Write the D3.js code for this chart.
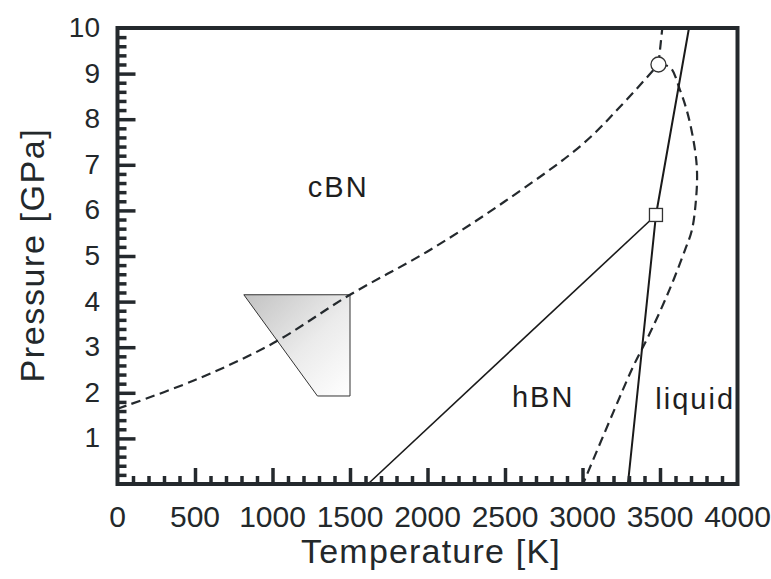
<!DOCTYPE html>
<html>
<head>
<meta charset="utf-8">
<script src="https://cdn.jsdelivr.net/npm/d3@7"></script>
<style>
  html, body { margin: 0; padding: 0; background: #fff; }
  svg { display: block; font-family: "Liberation Sans", Arial, sans-serif; }
</style>
</head>
<body>
<svg id="chart" width="771" height="579"></svg>
<script>
// Boron nitride P–T phase diagram

// Axis ticks
const xMajorTicks = [0, 500, 1000, 1500, 2000, 2500, 3000, 3500, 4000];
const yMajorTicks = [1, 2, 3, 4, 5, 6, 7, 8, 9, 10];

// cBN / hBN equilibrium line (dashed), temperature [K] and pressure [GPa]
const cbnHbnT = [0, 500, 1000, 1500, 2000, 2500, 3000, 3250, 3490];
const cbnHbnP = [1.65, 2.28, 3.08, 4.15, 5.1, 6.2, 7.45, 8.3, 9.2];

// continuation above the triple point (dashed)
const upperT = [3490, 3515];
const upperP = [9.2, 10];

// liquid boundary bulging to high temperature (dashed)
const liquidT = [3490, 3565, 3629, 3681, 3726, 3739, 3732, 3706, 3661, 3560, 3435, 3326, 3197, 3003];
const liquidP = [9.2, 9.14, 8.64, 8.09, 7.32, 6.82, 6.23, 5.57, 5.13, 4.25, 3.31, 2.57, 1.56, 0];

// melting line (solid)
const meltT = [3293, 3474, 3687];
const meltP = [0, 5.9, 10];

// hBN -> cBN kinetic line (solid)
const kineticT = [1616, 3474];
const kineticP = [0, 5.9];

// shaded synthesis region
const regionT = [815, 1500, 1500, 1290];
const regionP = [4.15, 4.15, 1.93, 1.93];

// markers
const circleMark = [3490, 9.2];
const squareMark = [3474, 5.9];

// phase labels
const phaseNames = ["cBN", "hBN", "liquid"];
const phaseT = [1228, 2545, 3470];
const phaseP = [6.29, 1.69, 1.65];

const svg = d3.select("#chart");
const plotLeft = 117.5, plotRight = 737.5, plotTop = 28, plotBottom = 484;
const x = d3.scaleLinear().domain([0, 4000]).range([plotLeft, plotRight]);
const y = d3.scaleLinear().domain([0, 10]).range([plotBottom, plotTop]);
const ink = "#24292d";

const zip = (a, b) => a.map((v, i) => [v, b[i]]);
const line = d3.line().x(d => x(d[0])).y(d => y(d[1]));
const smooth = d3.line().x(d => x(d[0])).y(d => y(d[1])).curve(d3.curveCatmullRom.alpha(0.5));

// gradient fill for the synthesis region
const defs = svg.append("defs");
const grad = defs.append("linearGradient").attr("id", "regionFill")
  .attr("x1", "0%").attr("y1", "0%").attr("x2", "100%").attr("y2", "100%");
grad.append("stop").attr("offset", "0%").attr("stop-color", "#c2c2c2");
grad.append("stop").attr("offset", "55%").attr("stop-color", "#ebebeb");
grad.append("stop").attr("offset", "100%").attr("stop-color", "#ffffff");

svg.append("path")
  .datum(zip(regionT, regionP))
  .attr("d", d => line(d) + "Z")
  .attr("fill", "url(#regionFill)")
  .attr("stroke", "#333")
  .attr("stroke-width", 1);

// dashed boundaries
[zip(cbnHbnT, cbnHbnP), zip(upperT, upperP), zip(liquidT, liquidP)].forEach(pts => {
  svg.append("path").datum(pts)
    .attr("d", smooth)
    .attr("fill", "none")
    .attr("stroke", ink)
    .attr("stroke-width", 2.2)
    .attr("stroke-dasharray", "9.5,5.5");
});

// solid lines
svg.append("path").datum(zip(kineticT, kineticP))
  .attr("d", line).attr("fill", "none").attr("stroke", "#1a1a1a").attr("stroke-width", 1.6);
svg.append("path").datum(zip(meltT, meltP))
  .attr("d", line).attr("fill", "none").attr("stroke", "#1a1a1a").attr("stroke-width", 2);

// markers
svg.append("circle")
  .attr("cx", x(circleMark[0])).attr("cy", y(circleMark[1])).attr("r", 7.5)
  .attr("fill", "#fff").attr("stroke", "#333").attr("stroke-width", 1.3);
svg.append("rect")
  .attr("x", x(squareMark[0]) - 6.5).attr("y", y(squareMark[1]) - 6.5)
  .attr("width", 13).attr("height", 13)
  .attr("fill", "#fff").attr("stroke", "#333").attr("stroke-width", 1.3);

// phase labels
svg.selectAll("text.phase")
  .data(phaseNames)
  .join("text")
  .attr("class", "phase")
  .attr("x", (d, i) => x(phaseT[i]))
  .attr("y", (d, i) => y(phaseP[i]))
  .attr("font-size", 29)
  .attr("letter-spacing", 2)
  .attr("fill", "#1e1e1e")
  .text(d => d);

// axes with inward ticks
const xMinor = d3.range(100, 4000, 100).filter(v => v % 500 !== 0);
const yMinor = d3.range(0.2, 10, 0.2).map(v => +v.toFixed(1)).filter(v => Math.abs(v - Math.round(v)) > 1e-6);

const xAxis = svg.append("g").attr("transform", `translate(0,${plotBottom})`);
xAxis.call(d3.axisBottom(x).tickValues(xMinor).tickSize(-8).tickFormat(""));
xAxis.append("g").call(d3.axisBottom(x).tickValues(xMajorTicks.slice(1, -1)).tickSize(-16).tickFormat(""));
xAxis.selectAll(".domain").remove();
xAxis.selectAll("line").attr("stroke", ink).attr("stroke-width", 3.5);

const yAxis = svg.append("g").attr("transform", `translate(${plotLeft},0)`);
yAxis.call(d3.axisLeft(y).tickValues(yMinor).tickSize(-9).tickFormat(""));
yAxis.append("g").call(d3.axisLeft(y).tickValues(yMajorTicks.slice(0, -1)).tickSize(-18).tickFormat(""));
yAxis.selectAll(".domain").remove();
yAxis.selectAll("line").attr("stroke", ink).attr("stroke-width", 3.5);

// frame
svg.append("rect")
  .attr("x", plotLeft).attr("y", plotTop)
  .attr("width", plotRight - plotLeft).attr("height", plotBottom - plotTop)
  .attr("fill", "none").attr("stroke", ink).attr("stroke-width", 4);

// tick labels
svg.selectAll("text.xl")
  .data(xMajorTicks)
  .join("text")
  .attr("class", "xl")
  .attr("x", d => x(d))
  .attr("y", 527)
  .attr("text-anchor", "middle")
  .attr("font-size", 30)
  .attr("fill", "#23282b")
  .text(d => d);

svg.selectAll("text.yl")
  .data(yMajorTicks)
  .join("text")
  .attr("class", "yl")
  .attr("x", 100)
  .attr("y", d => y(d) + 9)
  .attr("text-anchor", "end")
  .attr("font-size", 28)
  .attr("fill", "#23282b")
  .text(d => d);

// axis titles
svg.append("text")
  .attr("x", 431).attr("y", 563)
  .attr("text-anchor", "middle")
  .attr("font-size", 34)
  .attr("letter-spacing", 1.2)
  .attr("fill", "#23282b")
  .text("Temperature [K]");

svg.append("text")
  .attr("transform", `translate(44,255) rotate(-90)`)
  .attr("text-anchor", "middle")
  .attr("font-size", 34)
  .attr("letter-spacing", 1.6)
  .attr("fill", "#23282b")
  .text("Pressure [GPa]");
</script>
</body>
</html>
